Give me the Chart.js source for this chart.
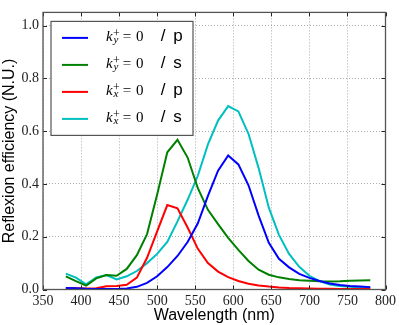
<!DOCTYPE html>
<html>
<head>
<meta charset="utf-8">
<script src="https://cdn.jsdelivr.net/npm/chart.js@4/dist/chart.umd.min.js"></script>
<style>
  body { margin: 0; background: #fff; }
</style>
</head>
<body>
<canvas id="reflexion" width="399" height="325"></canvas>
<script>
// wavelength samples (nm)
const wavelengths = [380, 393.3, 406.7, 420, 433.3, 446.7, 460, 473.3, 486.7, 500,
  513.3, 526.7, 540, 553.3, 566.7, 580, 593.3, 606.7, 620, 633.3,
  646.7, 660, 673.3, 686.7, 700, 713.3, 726.7, 740, 753.3, 766.7, 780];

const kyP = [0.006, 0.005, 0.003, 0.002, 0.002, 0.002, 0.004, 0.01, 0.025, 0.05,
  0.085, 0.127, 0.18, 0.25, 0.355, 0.45, 0.508, 0.474, 0.395, 0.28,
  0.177, 0.116, 0.084, 0.059, 0.044, 0.032, 0.023, 0.017, 0.013, 0.011, 0.009];

const kyS = [0.05, 0.032, 0.015, 0.042, 0.055, 0.052, 0.078, 0.13, 0.21, 0.36,
  0.52, 0.567, 0.5, 0.385, 0.302, 0.248, 0.196, 0.15, 0.108, 0.075,
  0.056, 0.046, 0.04, 0.035, 0.033, 0.031, 0.03, 0.031, 0.033, 0.034, 0.035];

const kxP = [0.006, 0.005, 0.004, 0.005, 0.012, 0.013, 0.018, 0.045, 0.12, 0.22,
  0.32, 0.308, 0.235, 0.155, 0.1, 0.068, 0.047, 0.032, 0.022, 0.015,
  0.011, 0.008, 0.006, 0.005, 0.004, 0.003, 0.003, 0.002, 0.002, 0.002, 0.002];

const kxS = [0.06, 0.045, 0.02, 0.046, 0.055, 0.038, 0.05, 0.07, 0.1, 0.135,
  0.18, 0.258, 0.34, 0.43, 0.55, 0.64, 0.695, 0.675, 0.59, 0.46,
  0.31, 0.207, 0.135, 0.086, 0.052, 0.032, 0.019, 0.013, 0.01, 0.008, 0.007];

const seriesLabels = ["k_y^+ = 0 / p", "k_y^+ = 0 / s", "k_x^+ = 0 / p", "k_x^+ = 0 / s"];
const seriesAxis = ["y", "y", "x", "x"];
const seriesPol = ["p", "s", "p", "s"];
const seriesValues = [kyP, kyS, kxP, kxS];
const seriesColors = ["#0000ff", "#008000", "#ff0000", "#00bfbf"];

const xTicks = [350, 400, 450, 500, 550, 600, 650, 700, 750, 800];
const yTicks = [0, 0.2, 0.4, 0.6, 0.8, 1.0];

const tickFont = { family: "'Liberation Serif', serif", size: 14 };
const titleFont = { family: "'Liberation Sans', Arial, sans-serif", size: 16 };

// frame, inward tick marks and the mathtext legend
const decorPlugin = {
  id: "decor",
  afterDatasetsDraw(chart) {
    const { ctx, chartArea: ca, scales } = chart;
    ctx.save();
    ctx.strokeStyle = "#222";
    ctx.lineWidth = 1;
    xTicks.forEach((v) => {
      const px = Math.round(scales.x.getPixelForValue(v)) + 0.5;
      ctx.beginPath();
      ctx.moveTo(px, ca.bottom); ctx.lineTo(px, ca.bottom - 4);
      ctx.moveTo(px, ca.top); ctx.lineTo(px, ca.top + 4);
      ctx.stroke();
    });
    yTicks.forEach((v) => {
      const py = Math.round(scales.y.getPixelForValue(v)) + 0.5;
      ctx.beginPath();
      ctx.moveTo(ca.left, py); ctx.lineTo(ca.left + 4, py);
      ctx.moveTo(ca.right, py); ctx.lineTo(ca.right - 4, py);
      ctx.stroke();
    });
    ctx.strokeStyle = "#555";
    ctx.lineWidth = 1.3;
    ctx.strokeRect(ca.left, ca.top, ca.right - ca.left, ca.bottom - ca.top);
    ctx.restore();
  },
  afterDraw(chart) {
    const { ctx, chartArea: ca } = chart;
    const bx = ca.left + 8, by = ca.top + 9, bw = 142, bh = 114;
    ctx.save();
    ctx.fillStyle = "#fff";
    ctx.fillRect(bx, by, bw, bh);
    ctx.strokeStyle = "#555";
    ctx.lineWidth = 1.2;
    ctx.strokeRect(bx, by, bw, bh);
    seriesLabels.forEach((label, i) => {
      const x = bx + 11;
      const y = by + 16.5 + i * 27;
      ctx.strokeStyle = seriesColors[i];
      ctx.lineWidth = 2;
      ctx.beginPath();
      ctx.moveTo(x, y); ctx.lineTo(x + 26, y);
      ctx.stroke();

      ctx.fillStyle = "#000";
      ctx.textBaseline = "alphabetic";
      ctx.textAlign = "left";
      const tx = x + 44;
      ctx.font = "italic 15px 'Liberation Serif'";
      ctx.fillText("k", tx, y + 3.5);
      ctx.font = "12px 'Liberation Serif'";
      ctx.fillText("+", tx + 7, y - 1);
      ctx.font = "italic 11px 'Liberation Serif'";
      ctx.fillText(seriesAxis[i], tx + 7.5, y + 5.5);
      ctx.font = "15px 'Liberation Serif'";
      ctx.fillText("=", tx + 16.7, y + 3.5);
      ctx.fillText("0", tx + 30, y + 3.5);
      ctx.font = "17px 'Liberation Sans'";
      ctx.fillText("/", tx + 54.7, y + 3.5);
      ctx.fillText(seriesPol[i], tx + 67.3, y + 3.5);
    });
    ctx.restore();
  },
};

const ctx = document.querySelector("#reflexion");
const reflexionChart = new Chart(ctx, {
  type: "line",
  data: {
    datasets: seriesValues.map((vals, i) => ({
      label: seriesLabels[i],
      data: wavelengths.map((w, j) => ({ x: w, y: vals[j] })),
      borderColor: seriesColors[i],
      backgroundColor: seriesColors[i],
      borderWidth: 2,
      pointRadius: 0,
      tension: 0,
      fill: false,
    })),
  },
  options: {
    responsive: false,
    animation: false,
    layout: { padding: { left: 0, right: 10, top: 4, bottom: 0 } },
    plugins: {
      legend: { display: false },
      tooltip: { enabled: false },
    },
    scales: {
      x: {
        type: "linear",
        min: 350,
        max: 800,
        afterBuildTicks: (scale) => { scale.ticks = xTicks.map((v) => ({ value: v })); },
        afterFit: (scale) => { scale.height = 35.5; },
        ticks: { font: tickFont, color: "#222", padding: 3, maxRotation: 0, autoSkip: false },
        grid: { color: "#aaa", lineWidth: 1, drawTicks: false },
        border: { display: false, dash: [1, 2] },
        title: { display: true, text: "Wavelength (nm)", font: titleFont, color: "#000", padding: 0 },
      },
      y: {
        min: 0,
        max: 1.05,
        afterBuildTicks: (scale) => { scale.ticks = yTicks.map((v) => ({ value: v })); },
        afterFit: (scale) => { scale.width = 43; },
        ticks: { font: tickFont, color: "#222", padding: 4, callback: (v) => v.toFixed(1) },
        grid: { color: "#aaa", lineWidth: 1, drawTicks: false },
        border: { display: false, dash: [1, 2] },
        title: { display: true, text: "Reflexion efficiency (N.U.)", font: titleFont, color: "#000", padding: 0 },
      },
    },
  },
  plugins: [decorPlugin],
});
</script>
</body>
</html>
